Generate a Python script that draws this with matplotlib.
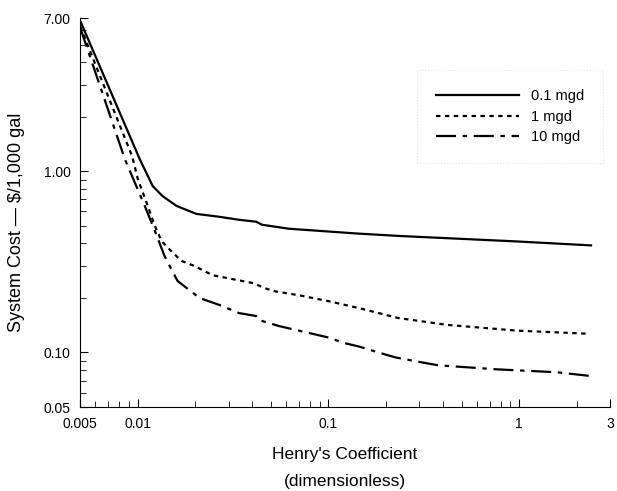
import matplotlib.pyplot as plt
from matplotlib.ticker import FixedLocator, NullFormatter, LogLocator

plt.rcParams['font.family'] = ['Liberation Sans', 'DejaVu Sans']

## 0.1 mgd
h_01 = [0.005, 0.01027, 0.0120, 0.0135, 0.016, 0.0203, 0.0268, 0.034, 0.0418, 0.0449,
        0.062, 0.1436, 0.232, 0.976, 2.38]
c_01 = [6.77, 1.163, 0.828, 0.73, 0.644, 0.582, 0.561, 0.540, 0.527, 0.507,
        0.482, 0.453, 0.44, 0.41, 0.39]

## 1 mgd
h_1 = [0.005, 0.00936, 0.01003, 0.0113, 0.0123, 0.0134, 0.0151, 0.017, 0.0199, 0.0247, 0.034,
       0.0407, 0.046, 0.0519, 0.070, 0.100, 0.144, 0.232, 0.42, 0.976, 2.28]
c_1 = [6.3, 1.21, 0.904, 0.644, 0.50, 0.41, 0.36, 0.32, 0.30, 0.267, 0.25,
       0.241, 0.227, 0.218, 0.207, 0.192, 0.176, 0.155, 0.142, 0.132, 0.127]

## 10 mgd
h_10 = [0.005, 0.00858, 0.0109, 0.0126, 0.0138, 0.0152, 0.0162, 0.0211, 0.0268, 0.034, 0.0418,
        0.0433, 0.055, 0.070, 0.100, 0.120, 0.144, 0.183, 0.224, 0.295, 0.375, 0.768, 1.58, 2.41]
c_10 = [6.2, 1.163, 0.644, 0.441, 0.343, 0.281, 0.248, 0.20, 0.183, 0.165, 0.159,
        0.151, 0.14, 0.132, 0.121, 0.113, 0.108, 0.10, 0.094, 0.089, 0.085, 0.0807, 0.0778, 0.074]

x_ticks = [0.005, 0.01, 0.1, 1, 3]
x_labels = ['0.005', '0.01', '0.1', '1', '3']
y_ticks = [0.05, 0.1, 1, 7]
y_labels = ['0.05', '0.10', '1.00', '7.00']

fig = plt.figure(figsize=(6.17, 4.91), dpi=100)
ax = fig.add_axes([0.13, 0.171, 0.859, 0.792])

ax.plot(h_01, c_01, color='black', linewidth=1.6, linestyle='-', label='0.1 mgd')
ax.plot(h_1, c_1, color='black', linewidth=1.6, linestyle=(0, (2, 2)), label='1 mgd')
ax.plot(h_10, c_10, color='black', linewidth=1.6, linestyle=(0, (9, 3, 2, 3)), label='10 mgd')

ax.set_xscale('log')
ax.set_yscale('log')
ax.set_xlim(0.005, 3)
ax.set_ylim(0.05, 7)

ax.xaxis.set_major_locator(FixedLocator(x_ticks))
ax.set_xticklabels(x_labels)
ax.xaxis.set_minor_locator(LogLocator(base=10, subs=range(2, 10)))
ax.xaxis.set_minor_formatter(NullFormatter())
ax.yaxis.set_major_locator(FixedLocator(y_ticks))
ax.set_yticklabels(y_labels)
ax.yaxis.set_minor_locator(LogLocator(base=10, subs=range(2, 10)))
ax.yaxis.set_minor_formatter(NullFormatter())

ax.spines['top'].set_visible(False)
ax.spines['right'].set_visible(False)
ax.tick_params(which='both', direction='in', labelsize=10, color='black')
ax.tick_params(which='major', length=6, pad=7)
ax.tick_params(which='minor', length=4)

ax.set_ylabel('System Cost \u2014 $/1,000 gal', fontsize=13)
ax.yaxis.set_label_coords(-0.105, 0.475)

## x축 제목은 두 줄을 따로 배치 (아래쪽이 잘리지 않게)
fig.text(0.559, 0.075, "Henry's Coefficient", fontsize=12.5, ha='center', va='center')
fig.text(0.559, 0.02, "(dimensionless)", fontsize=12.5, ha='center', va='center')

leg = ax.legend(loc='upper right', bbox_to_anchor=(1.0, 0.885), fontsize=10.5, handlelength=5.7,
                frameon=True, fancybox=False, borderpad=1.3, labelspacing=0.45, handletextpad=0.8)
leg.get_frame().set_edgecolor('#dddddd')
leg.get_frame().set_linestyle(':')
leg.get_frame().set_linewidth(0.8)

plt.savefig('out.png', dpi=100)
